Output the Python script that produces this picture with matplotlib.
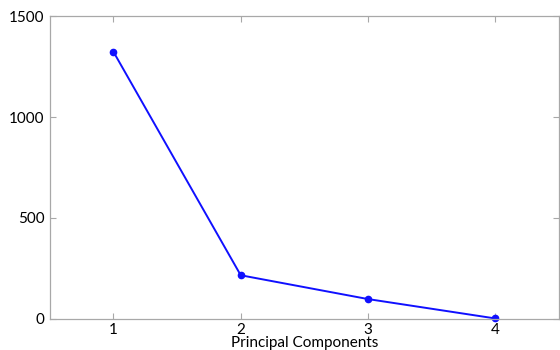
import matplotlib.pyplot as plt

# Scree-style plot of principal component values
components = [1, 2, 3, 4]
values = [1323, 216, 98, 2]
y_ticks = [0, 500, 1000, 1500]

plt.rcParams['font.family'] = ['Lato', 'DejaVu Sans']

fig = plt.figure(figsize=(5.6, 3.5), dpi=100)
ax = fig.add_axes([0.089, 0.089, 0.909, 0.865])

ax.plot(components, values, color='#1010ff', linewidth=1.4,
        marker='o', markersize=4.5, clip_on=False)

ax.set_xlim(0.5, 4.5)
ax.set_ylim(0, 1500)
ax.set_xticks(components)
ax.set_yticks(y_ticks)
ax.set_xlabel('Principal Components', fontsize=11, labelpad=-0.5)

for side in ax.spines.values():
    side.set_color('#a8a8a8')
    side.set_linewidth(0.9)
ax.tick_params(direction='in', length=4, width=0.8, color='#a8a8a8',
               labelsize=11, top=True, right=True, pad=3)
ax.tick_params(axis='y', pad=4)

fig.savefig('out.png', dpi=100)
